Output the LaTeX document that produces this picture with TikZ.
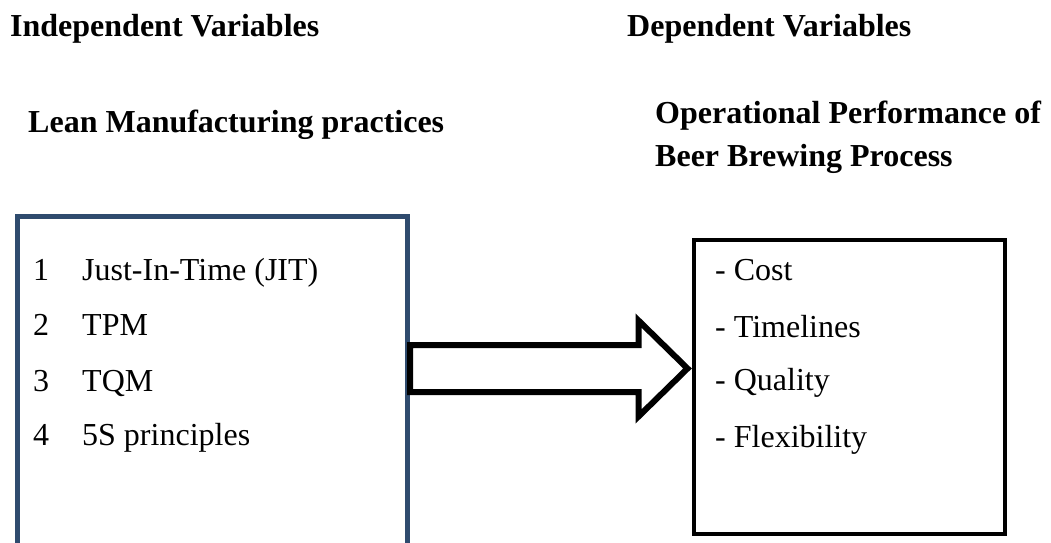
\documentclass[tikz,border=0pt]{standalone}
\usepackage{fontspec}
\setmainfont{Liberation Serif}
\usetikzlibrary{calc}
\definecolor{boxblue}{HTML}{2F4B6E}
\tikzset{
  heading/.style={anchor=base west, inner sep=0pt, font=\fontsize{32}{38}\selectfont\bfseries},
  item/.style={anchor=base west, inner sep=0pt, font=\fontsize{32}{38}\selectfont},
  leftbox/.style={draw=boxblue, line width=5pt, fill=none, inner sep=0pt},
  rightbox/.style={draw=black, line width=4pt, fill=none, inner sep=0pt},
  bigarrow/.style={draw=black, fill=white, line width=6pt, line join=miter},
}
\begin{document}
\begin{tikzpicture}[x=1pt,y=-1pt]
  \useasboundingbox (0,0) rectangle (1051,542);

  % column headings
  \node[heading] (indep) at (10,36) {Independent Variables};
  \node[heading] (dep) at (627,36) {Dependent Variables};
  \node[heading] (lean) at (28,132) {Lean Manufacturing practices};
  \node[heading] (oper1) at (655,123) {Operational Performance of};
  \node[heading] (oper2) at (655,166) {Beer Brewing Process};

  % box of practices (runs on below the lower edge)
  \node[leftbox, minimum width=390pt, minimum height=384pt] (practices) at (212.5,408) {};
  \node[item] (n1) at (33,280) {1};
  \node[item] (n2) at (33,335) {2};
  \node[item] (n3) at (33,391) {3};
  \node[item] (n4) at (33,445) {4};
  \node[item] (p1) at (82,280) {Just-In-Time (JIT)};
  \node[item] (p2) at (82,335) {TPM};
  \node[item] (p3) at (82,391) {TQM};
  \node[item] (p4) at (82,445) {5S principles};

  % box of performance measures
  \node[rightbox, minimum width=311pt, minimum height=293.5pt] (measures) at (849.5,386.75) {};
  \node[item] (m1) at (715,280) {- Cost};
  \node[item] (m2) at (715,337) {- Timelines};
  \node[item] (m3) at (715,390) {- Quality};
  \node[item] (m4) at (715,447) {- Flexibility};

  % block arrow from practices to measures
  \coordinate (tail) at (practices.east |- 0,368.5);
  \coordinate (tip) at ($(measures.west |- tail)+(-4.5,0)$);
  \draw[bigarrow]
    ($(tail)+(0,-23.5)$) -- ($(tip)+(-49,-23.5)$) -- ($(tip)+(-49,-48)$)
    -- (tip)
    -- ($(tip)+(-49,48)$) -- ($(tip)+(-49,23.5)$) -- ($(tail)+(0,23.5)$) -- cycle;
\end{tikzpicture}
\end{document}
